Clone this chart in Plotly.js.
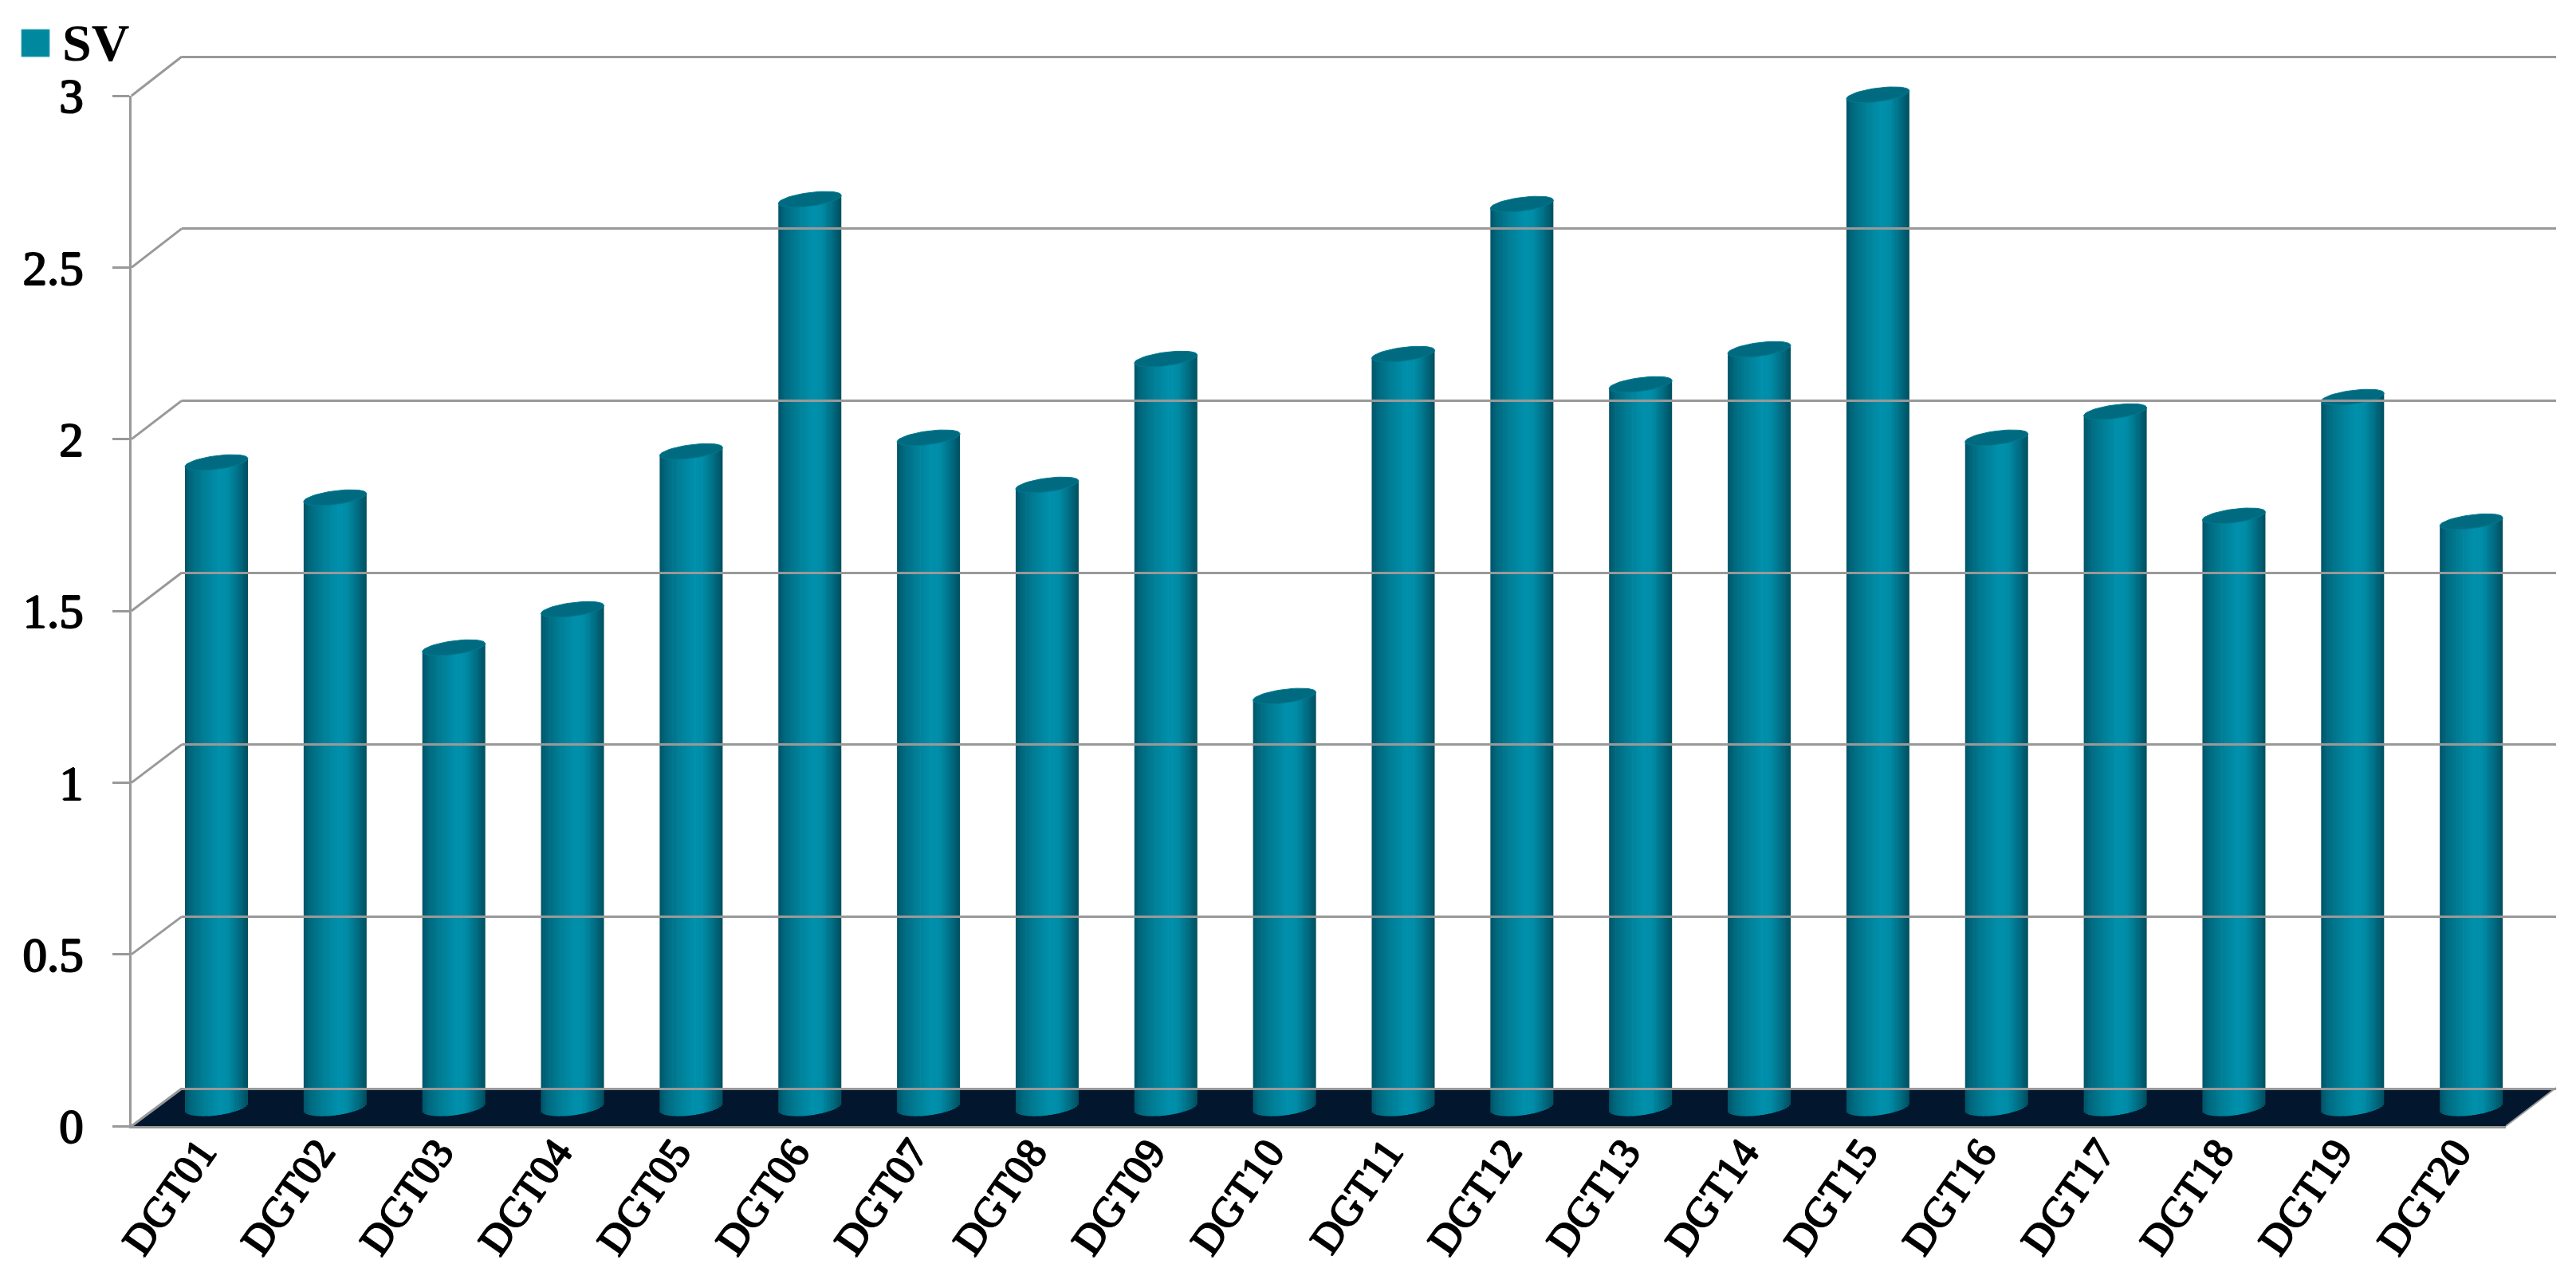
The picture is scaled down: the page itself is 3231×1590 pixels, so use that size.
<!DOCTYPE html>
<html><head><meta charset="utf-8">
<script src="https://cdn.plot.ly/plotly-3.0.1.min.js"></script>
<style>html,body{margin:0;padding:0;background:#fff}#c{width:3231px;height:1590px}</style>
</head><body><div id="c"></div>
<script>
const categories = ["DGT01","DGT02","DGT03","DGT04","DGT05","DGT06","DGT07","DGT08","DGT09","DGT10","DGT11","DGT12","DGT13","DGT14","DGT15","DGT16","DGT17","DGT18","DGT19","DGT20"];
const SV = [1.873,1.771,1.335,1.446,1.905,2.638,1.945,1.808,2.174,1.194,2.188,2.624,2.10,2.202,2.942,1.945,2.021,1.718,2.063,1.701];
const yTicks = [0,0.5,1,1.5,2,2.5,3];
const yTickLabels = ["0","0.5","1","1.5","2","2.5","3"];

const W=3231,H=1590;
const FONT="Liberation Serif";
const GRID="#999999";
const TEXTSHADOW="1px 0 0 #000, -1px 0 0 #000, 0 1px 0 #000, 0 -1px 0 #000";
// frame geometry in page pixels
const front={x0:165,x1:3143,y0:1412,y3:120};
const back={x0:228,x1:3206,y0:1365,y3:71};
const bars={x0:271.5,step:148.85,y0:1388,unit:431.4,halfW:39.5,halfH:8.5,baseHalfH:10.5,tilt:5,labelShift:20,labelLift:10};
const fx=p=>p/W, fy=p=>1-p/H;
const pad=0.02, backUnit=(back.y0-back.y3)/3;

const stops=[[0,[0,84,104]],[0.1,[0,104,126]],[0.3,[0,126,150]],[0.55,[0,144,172]],[0.68,[0,140,167]],[0.85,[0,110,132]],[1,[0,78,95]]];
function shade(t){
  for(let i=1;i<stops.length;i++){ if(t<=stops[i][0]){
    const a=stops[i-1],b=stops[i],k=(t-a[0])/(b[0]-a[0]);
    return 'rgb('+a[1].map((v,j)=>Math.round(v+(b[1][j]-v)*k)).join(',')+')';
  }}
  return 'rgb(0,78,95)';
}
const traces=[];
// frame axes need a trace to be drawn
traces.push({type:'scatter',mode:'lines',x:[0,19],y:[0,0],xaxis:'x',yaxis:'y',line:{width:0},hoverinfo:'skip',showlegend:false});
traces.push({type:'scatter',mode:'lines',x:[0,19],y:[0,0],xaxis:'x3',yaxis:'y3',line:{width:0},hoverinfo:'skip',showlegend:false});

// cylinders: one bar trace per vertical strip of the shading
const N=30, idx=categories.map((_,i)=>i);
const uW=bars.halfW/bars.step, vH=bars.halfH/bars.unit, vB=bars.baseHalfH/bars.unit, vT=bars.tilt/bars.unit;
for(let s=0;s<N;s++){
  const t=(s+0.5)/N, u=2*t-1;
  const off=-uW+2*uW*s/N, wid=2*uW/N+(s<N-1?0.7/bars.step:0);
  const low=-vB*Math.sqrt(1-u*u)+vT*u; // lower edge of the base ellipse
  traces.push({type:'bar',x:idx,y:SV.map(v=>v+vT*u-low),base:idx.map(()=>low),width:idx.map(()=>wid),offset:idx.map(()=>off),
    marker:{color:shade(t),line:{width:0}},xaxis:'x2',yaxis:'y2',hoverinfo:'skip',showlegend:false});
}
// top caps
const capX=[],capY=[];
SV.forEach((v,i)=>{
  for(let a=0;a<=48;a++){
    const th=a/48*2*Math.PI, c=Math.cos(th), sn=Math.sin(th);
    capX.push(i+uW*c); capY.push(v+vH*sn+vT*c);
  }
  capX.push(null);capY.push(null);
});
traces.push({type:'scatter',mode:'lines',x:capX,y:capY,fill:'toself',fillcolor:'#006b80',line:{color:'#00798f',width:1},xaxis:'x2',yaxis:'y2',hoverinfo:'skip',showlegend:false});

const shapes=[];
shapes.push({type:'path',layer:'below',xref:'paper',yref:'paper',
  path:`M${fx(front.x0)},${fy(front.y0)}L${fx(back.x0)},${fy(back.y0-1)}L${fx(back.x1)},${fy(back.y0-1)}L${fx(front.x1)},${fy(front.y0)}Z`,
  fillcolor:'#02172d',line:{width:0}});
shapes.push({type:'line',layer:'below',xref:'paper',yref:'paper',x0:fx(front.x1),y0:fy(front.y0),x1:fx(back.x1),y1:fy(back.y0-1),line:{color:GRID,width:2}});
yTicks.forEach(v=>{
  const k=v/3;
  shapes.push({type:'line',layer:'below',xref:'paper',yref:'paper',
    x0:fx(front.x0),y0:fy(front.y0+(front.y3-front.y0)*k),
    x1:fx(back.x0),y1:fy(back.y0+(back.y3-back.y0)*k),line:{color:GRID,width:3}});
});
// legend swatch
shapes.push({type:'rect',xref:'paper',yref:'paper',x0:fx(27),x1:fx(62),y0:fy(71),y1:fy(37),fillcolor:'#00889f',line:{color:'#3aa6b8',width:1}});

const layout={
  width:W,height:H,margin:{l:0,r:0,t:0,b:0},autosize:false,showlegend:false,
  paper_bgcolor:'#fff',plot_bgcolor:'rgba(0,0,0,0)',barmode:'overlay',
  font:{family:FONT,color:'#000'},
  xaxis:{domain:[fx(front.x0),fx(front.x1)],range:[-0.5,19.5],showgrid:false,zeroline:false,showticklabels:false,ticks:'',
    showline:true,linecolor:GRID,linewidth:3,anchor:'y',fixedrange:true},
  yaxis:{domain:[fy(front.y0),fy(front.y3)],range:[0,3],tickvals:yTicks,ticktext:yTickLabels,ticks:'outside',ticklen:21,tickwidth:3,tickcolor:GRID,
    showline:true,linecolor:GRID,linewidth:3,showgrid:false,zeroline:false,anchor:'x',ticklabelstandoff:24,
    tickfont:{family:FONT,size:61,color:'#000',shadow:TEXTSHADOW},fixedrange:true},
  xaxis3:{domain:[fx(back.x0),fx(back.x1)],range:[-0.5,19.5],visible:false,anchor:'y3',fixedrange:true},
  yaxis3:{domain:[fy(back.y0+pad*backUnit),fy(back.y3-pad*backUnit)],range:[-pad,3+pad],tickvals:yTicks,showgrid:true,gridcolor:GRID,gridwidth:3,zeroline:false,showline:false,showticklabels:false,ticks:'',anchor:'x3',fixedrange:true},
  xaxis2:{domain:[0,1],range:[(0-bars.x0)/bars.step,(W-bars.x0)/bars.step],tickvals:idx.map(i=>i-bars.labelShift/bars.step),ticktext:categories,tickangle:-55,ticks:'',
    showgrid:false,zeroline:false,showline:false,anchor:'free',position:fy(front.y0-bars.labelLift),
    tickfont:{family:FONT,size:53,color:'#000',shadow:TEXTSHADOW},fixedrange:true},
  yaxis2:{domain:[0,1],range:[(bars.y0-H)/bars.unit,bars.y0/bars.unit],visible:false,anchor:'x2',fixedrange:true},
  shapes:shapes,
  annotations:[{text:'<b>SV</b>',xref:'paper',yref:'paper',x:fx(76),y:fy(54),xanchor:'left',yanchor:'middle',showarrow:false,font:{family:FONT,size:66,color:'#000'}}]
};
Plotly.newPlot('c',traces,layout,{displayModeBar:false,staticPlot:true});
</script></body></html>
